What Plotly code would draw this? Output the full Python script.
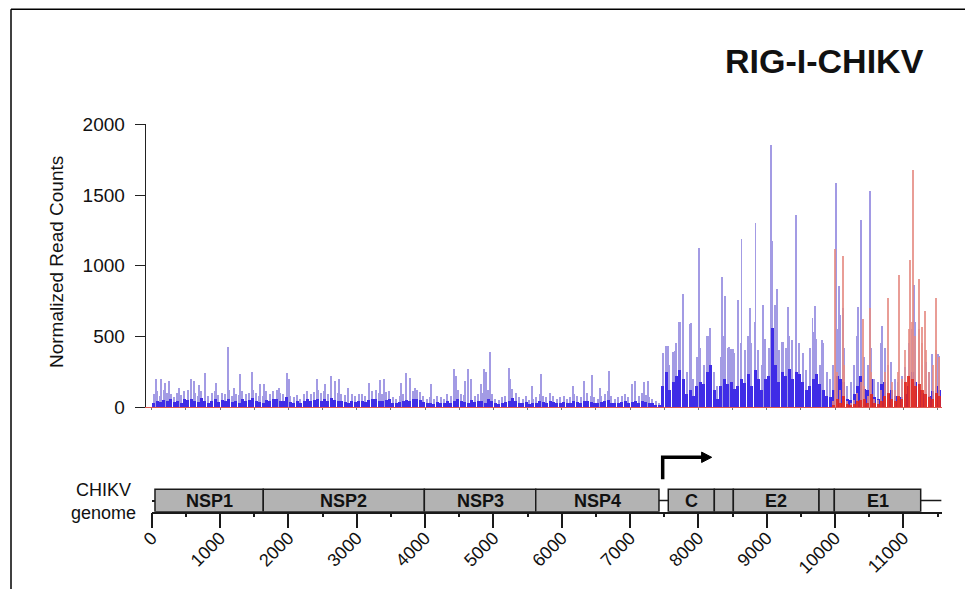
import plotly.graph_objects as go

# read-count profile, 50 nt bins along the CHIKV genome
BIN = 50
blue_bin_start = list(range(0, 11550, BIN))
red_bin_start = list(range(9950, 11550, BIN))

blue_dark = [
    30, 45, 35, 50, 40, 55, 35, 45, 30, 60, 50, 55, 40, 35, 65, 45, 30, 40, 55, 35,
    50, 40, 60, 35, 45, 30, 55, 40, 50, 65, 45, 35, 30, 50, 40, 60, 55, 45, 40, 70,
    35, 30, 40, 25, 45, 55, 40, 50, 60, 45, 55, 40, 65, 50, 45, 40, 35, 30, 40, 35,
    45, 40, 35, 50, 55, 60, 45, 40, 50, 55, 30, 25, 35, 40, 50, 45, 55, 60, 50, 35,
    25, 30, 20, 35, 30, 25, 40, 30, 45, 55, 40, 35, 30, 50, 35, 40, 45, 30, 55, 40,
    25, 20, 30, 35, 40, 65, 45, 30, 25, 35, 20, 25, 30, 40, 35, 30, 45, 35, 25, 30,
    35, 25, 30, 40, 35, 30, 40, 45, 35, 30, 25, 35, 40, 50, 30, 25, 30, 35, 40, 30,
    35, 40, 30, 45, 35, 30, 25, 15, 10,
    150, 250, 120, 180, 220, 260, 200, 90, 120, 80, 150,
    180, 160, 250, 300, 120, 60, 150, 200, 160, 180, 130, 150, 200, 170, 230, 150, 260, 200, 120, 200,
    220, 560, 300, 180, 250, 220, 270, 200, 250, 230, 180, 120, 150, 200, 230, 160, 120, 80, 70, 120,
    220, 200, 180, 60, 50, 90, 150, 220, 130, 120, 200, 70, 60, 160, 180, 90, 120, 80, 60, 70,
    90, 150, 250, 180, 120, 100, 90, 80, 110, 150, 120,
]

blue_light = [
    90, 110, 80, 120, 100, 90, 70, 100, 85, 110, 120, 95, 100, 80, 115, 90, 75, 100, 110, 85,
    100, 90, 120, 80, 95, 85, 110, 90, 100, 120, 100, 80, 75, 110, 90, 115, 120, 100, 90, 125,
    80, 70, 85, 60, 95, 110, 90, 105, 120, 100, 115, 95, 120, 110, 100, 90, 85, 70, 90, 80,
    95, 90, 80, 105, 110, 120, 100, 90, 105, 110, 70, 60, 80, 90, 105, 95, 110, 120, 105, 80,
    60, 70, 55, 80, 70, 60, 90, 75, 100, 120, 95, 85, 75, 110, 80, 95, 100, 75, 120, 90,
    55, 50, 70, 80, 90, 130, 100, 70, 60, 80, 50, 60, 70, 90, 80, 70, 100, 80, 60, 70,
    80, 60, 70, 90, 80, 70, 90, 100, 80, 70, 60, 80, 90, 110, 75, 60, 70, 80, 95, 70,
    80, 90, 75, 100, 85, 70, 60, 40, 25,
    380, 430, 300, 390, 450, 600, 430, 250, 590, 200, 350,
    420, 300, 500, 560, 250, 150, 350, 500, 420, 410, 380, 300, 450, 400, 500, 450, 600, 400, 300, 480,
    420, 600, 720, 400, 460, 420, 500, 470, 520, 450, 380, 260, 420, 530, 480, 300, 450, 250, 200, 300,
    550, 650, 420, 150, 180, 300, 500, 550, 350, 300, 420, 200, 180, 450, 420, 300, 320, 200, 180, 220,
    280, 450, 550, 600, 400, 300, 320, 250, 350, 380, 360,
]

blue_spike_pos = [63, 131, 185, 243, 390, 571, 609, 692, 770, 937, 1107, 1195, 1292, 1463,
                  1585, 1643, 1853, 1976, 1999, 2419, 2536, 2619, 2682, 2741, 2868, 3170,
                  3341, 3390, 3648, 3712, 3780, 3853, 4083, 4424, 4449, 4585, 4619, 4673,
                  4815, 4863, 4882, 4941, 5219, 5244, 5561, 5697, 6155, 6317, 6440, 6561,
                  6692, 7025, 7073, 7195, 7253,
                  7473, 7546, 7658, 7707, 7731, 7771, 7893, 8012, 8131, 8166, 8341, 8383,
                  8449, 8497, 8578, 8627, 8754, 8832, 8936, 9058, 9076, 9144, 9229, 9305,
                  9366, 9420, 9666, 9705, 9812, 10005, 10056, 10107, 10332, 10376, 10512,
                  10683, 11146, 11415, 11500]
blue_spike_val = [196, 196, 172, 184, 137, 196, 184, 153, 243, 172, 427, 137, 236, 250,
                  160, 160, 137, 239, 196, 200, 160, 220, 184, 196, 137, 172,
                  191, 196, 172, 243, 208, 137, 160, 266, 220, 184, 271, 200,
                  160, 266, 248, 389, 273, 196, 149, 231, 149, 184, 226, 137,
                  255, 160, 184, 177, 184,
                  380, 428, 395, 601, 428, 801, 594, 1125, 502, 557, 916, 787,
                  425, 413, 756, 1190, 698, 1300, 721, 1854, 1171, 832, 459, 705,
                  476, 1355, 628, 712, 471, 1583, 855, 697, 705, 1319, 1529,
                  572, 862, 377, 374]

red_dark = [10, 60, 30, 80, 20, 15, 20, 40, 50, 60, 30, 90, 30, 20, 40, 80,
            100, 60, 40, 80, 60, 180, 220, 200, 150, 160, 120, 90, 70, 60, 100, 80]
red_light = [40, 250, 120, 300, 40, 30, 50, 100, 180, 150, 80, 250, 60, 50, 120, 250,
             300, 180, 120, 250, 200, 400, 550, 600, 500, 550, 450, 400, 250, 300, 400, 350]

red_spike_pos = [10000, 10107, 10405, 10512, 10765, 10929, 11090, 11131, 11229, 11268, 11317, 11478]
red_spike_val = [1119, 1067, 625, 702, 773, 933, 1039, 1677, 903, 565, 676, 772]

# genome map
gene_names = ["NSP1", "NSP2", "NSP3", "NSP4", "C", "", "E2", "", "E1"]
gene_start = [48, 1633, 3990, 5620, 7560, 8234, 8512, 9766, 9990]
gene_end = [1633, 3990, 5620, 7424, 8234, 8512, 9766, 9990, 11254]
genome_end = 11560
sg_promoter = 7478
genome_ticks = list(range(0, 11001, 1000))

FONT = "Arial, Liberation Sans, sans-serif"
# the page body has an 8px margin, so the figure is a bit smaller and shifted
OFF = 8
W, H = 973 - 2 * OFF, 597 - 2 * OFF

def px(x):
    return (x - OFF) / W

def py(y):
    return 1 - (y - OFF) / H

LAV = "#a39be4"
BLUE = "#3f2ce6"
RED = "#e2251a"
LRED = "#e68c84"

blue_x = [s + BIN / 2 for s in blue_bin_start]
red_x = [s + BIN / 2 for s in red_bin_start]

fig = go.Figure()
fig.add_trace(go.Bar(x=blue_x, y=blue_light, width=20, marker_color=LAV, marker_line_width=0))
fig.add_trace(go.Bar(x=blue_spike_pos, y=blue_spike_val, width=14, marker_color=LAV, marker_line_width=0))
fig.add_trace(go.Bar(x=blue_x, y=blue_dark, width=44, marker_color=BLUE, marker_line_width=0))
fig.add_trace(go.Bar(x=red_x, y=red_light, width=18, marker_color=LRED, marker_line_width=0, opacity=0.8))
fig.add_trace(go.Bar(x=red_spike_pos, y=red_spike_val, width=14, marker_color=LRED, marker_line_width=0, opacity=0.85))
fig.add_trace(go.Bar(x=red_x, y=red_dark, width=44, marker_color=RED, marker_line_width=0, opacity=0.85))
# dummy trace so the genome axes are drawn
fig.add_trace(go.Scatter(x=[0], y=[0], xaxis="x2", yaxis="y2", mode="markers",
                         marker=dict(opacity=0), hoverinfo="skip"))

shapes = []
for s, e in zip(gene_start, gene_end):
    shapes.append(dict(type="rect", xref="x2", yref="y2", x0=s, x1=e, y0=0, y1=22.4,
                       fillcolor="#b3b3b3", line=dict(color="#1a1a1a", width=1.5)))
# line through the non-coding gaps
shapes.append(dict(type="line", xref="x2", yref="y2", x0=gene_end[3], x1=gene_start[4],
                   y0=11.2, y1=11.2, line=dict(color="#1a1a1a", width=1.5)))
shapes.append(dict(type="line", xref="x2", yref="y2", x0=gene_end[-1], x1=genome_end,
                   y0=11.2, y1=11.2, line=dict(color="#1a1a1a", width=1.5)))
# subgenomic promoter arrow
shapes.append(dict(type="path", xref="x2", yref="y2",
                   path=f"M {sg_promoter},32.4 L {sg_promoter},54.4 L {sg_promoter + 590},54.4",
                   line=dict(color="black", width=3.5)))
shapes.append(dict(type="path", xref="x2", yref="y2",
                   path=f"M {sg_promoter + 570},59.6 L {sg_promoter + 717},54.4 L {sg_promoter + 570},49.2 Z",
                   fillcolor="black", line=dict(color="black", width=1)))
# frame of the figure panel
shapes.append(dict(type="line", xref="paper", yref="paper", x0=px(11), x1=1.02,
                   y0=py(9.3), y1=py(9.3), line=dict(color="black", width=1.5)))
shapes.append(dict(type="line", xref="paper", yref="paper", x0=px(11), x1=px(11),
                   y0=-0.02, y1=py(9.3), line=dict(color="black", width=1.5)))

annotations = []
for name, s, e in zip(gene_names, gene_start, gene_end):
    if name:
        annotations.append(dict(x=(s + e) / 2, y=11.2, xref="x2", yref="y2", text=f"<b>{name}</b>",
                                showarrow=False, font=dict(size=18, color="#111", family=FONT),
                                xanchor="center", yanchor="middle"))
annotations.append(dict(x=px(138), y=py(502), xref="paper", yref="paper", text="CHIKV<br>genome",
                        showarrow=False, xanchor="right", yanchor="middle", align="center",
                        font=dict(size=18, color="#111", family=FONT)))
annotations.append(dict(x=px(56), y=py(262), xref="paper", yref="paper", text="Normalized Read Counts",
                        textangle=-90, showarrow=False, xanchor="center", yanchor="middle",
                        font=dict(size=19, color="#111", family=FONT)))
annotations.append(dict(x=px(824), y=py(61), xref="paper", yref="paper", text="<b>RIG-I-CHIKV</b>",
                        showarrow=False, xanchor="center", yanchor="middle",
                        font=dict(size=34, color="#111", family=FONT)))

fig.update_layout(
    width=W, height=H,
    margin=dict(l=0, r=0, t=0, b=0, pad=0),
    paper_bgcolor="white", plot_bgcolor="white",
    barmode="overlay", bargap=0, showlegend=False,
    font=dict(family=FONT, color="#111"),
    xaxis=dict(domain=[px(145.7), px(941.6)], range=[-88, genome_end], automargin=False,
               showgrid=False, zeroline=False, showticklabels=False,
               showline=True, linecolor="#e05a50", linewidth=1,
               ticks="outside", ticklen=2, tickcolor="#777", tick0=0, dtick=500),
    yaxis=dict(domain=[py(407.3), py(124.3)], range=[0, 2000], automargin=False,
               showgrid=False, zeroline=False, showline=True, linecolor="#222", linewidth=1,
               ticks="outside", ticklen=10, tickcolor="#222", tickvals=[0, 500, 1000, 1500, 2000],
               tickfont=dict(size=19, color="#111"), ticklabelstandoff=6),
    xaxis2=dict(domain=[px(151.7), px(941.6)], range=[0, genome_end], anchor="y2", automargin=False,
                showgrid=False, zeroline=False, showline=True, linecolor="#1a1a1a", linewidth=1.5,
                ticks="outside", ticklen=15, tickwidth=1.5, tickcolor="#1a1a1a",
                tickvals=genome_ticks, ticktext=[str(t) for t in genome_ticks],
                tickangle=-45, tickfont=dict(size=18, color="#111"), ticklabelstandoff=-8,
                minor=dict(dtick=500, tick0=0, ticks="outside", ticklen=4, tickcolor="#1a1a1a")),
    yaxis2=dict(domain=[py(511.7), py(450)], range=[0, 61.7], anchor="x2", automargin=False,
                showgrid=False, zeroline=False, showline=False, showticklabels=False,
                ticks="inside", ticklen=4, tickwidth=1.5, tickcolor="#1a1a1a", tickvals=[11.2]),
    shapes=shapes,
    annotations=annotations,
)

fig.write_html("out.html")
